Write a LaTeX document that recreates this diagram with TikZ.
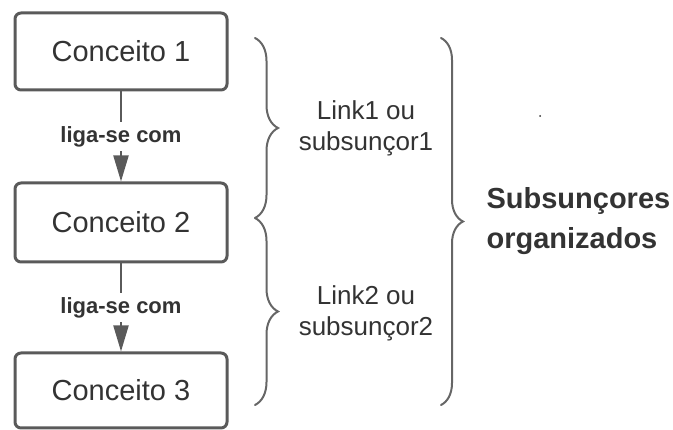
\documentclass[tikz,border=0pt]{standalone}
\usepackage{fontspec}
\setmainfont{Liberation Sans}
\usetikzlibrary{arrows.meta,decorations.pathreplacing}
\definecolor{linegray}{HTML}{5A5A5A}
\definecolor{txtgray}{HTML}{333333}
\definecolor{bracegray}{HTML}{666666}
\begin{document}
\begin{tikzpicture}[x=1pt,y=-1pt,
  conceptbox/.style={draw=linegray,line width=3pt,rounded corners=6pt,minimum width=212pt,inner sep=0pt,text=txtgray,font=\fontsize{29}{32}\selectfont},
  linkarrow/.style={draw=linegray,line width=2pt,-{Triangle[length=26pt,width=15pt]}},
  linklabel/.style={fill=white,text=txtgray,font=\bfseries\fontsize{22}{24}\selectfont,inner sep=4pt},
  bracestyle/.style={draw=bracegray,line width=2pt,line cap=round,decorate,decoration={brace,amplitude=#1,aspect=0.5}},
  sidelabel/.style={text=txtgray,align=center,font=\fontsize{26}{31}\selectfont},
  biglabel/.style={text=txtgray,align=left,font=\bfseries\fontsize{29}{40}\selectfont}]
\useasboundingbox (0,0) rectangle (673,430);
\node[conceptbox,minimum height=77pt] (c1) at (121,51.5) {Conceito 1};
\node[conceptbox,minimum height=79pt] (c2) at (121,222.5) {Conceito 2};
\node[conceptbox,minimum height=75pt] (c3) at (121,390.5) {Conceito 3};
\draw[linkarrow] (c1.south) -- node[linklabel] (l1) {liga-se com} (c2.north);
\draw[linkarrow] (c2.south) -- node[linklabel] (l2) {liga-se com} (c3.north);
\coordinate (b1t) at (255,38);
\coordinate (b1b) at (255,218);
\coordinate (b2b) at (255,405);
\coordinate (bbt) at (441,38);
\coordinate (bbb) at (441,405);
\draw[bracestyle=23pt] (b1t) -- (b1b);
\draw[bracestyle=23pt] (b1b) -- (b2b);
\draw[bracestyle=22pt] (bbt) -- (bbb);
\node[sidelabel] (s1) at (366,128) {Link1 ou\\subsunçor1};
\node[sidelabel] (s2) at (366,313) {Link2 ou\\subsunçor2};
\node[biglabel,anchor=west] (so) at (483,221) {Subsunçores\\organizados};
\node[circle,fill=txtgray,inner sep=0pt,minimum size=2pt] (dot) at (540,116) {};
\end{tikzpicture}
\end{document}
